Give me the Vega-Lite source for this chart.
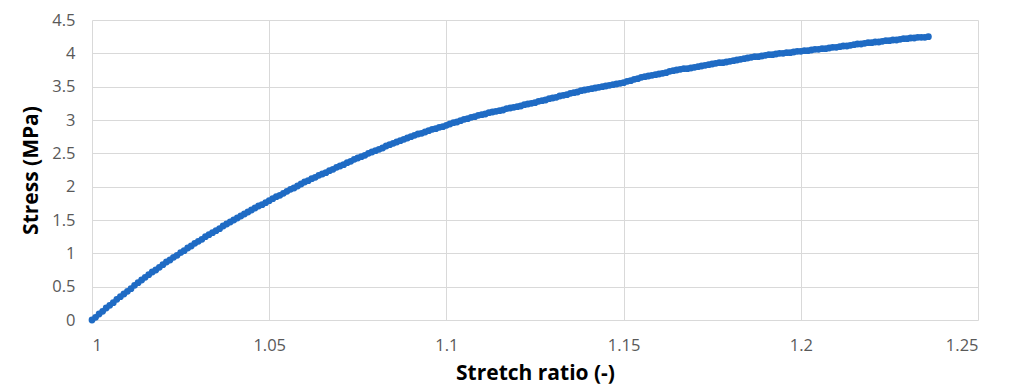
{
  "$schema": "https://vega.github.io/schema/vega-lite/v6.json",
  "width": 886,
  "height": 300,
  "autosize": {"type": "none"},
  "padding": {"left": 92, "top": 20, "right": 32, "bottom": 67},
  "background": "white",
  "config": {
    "view": {"stroke": null},
    "axis": {
      "domain": false,
      "ticks": false,
      "gridColor": "#d9d9d9",
      "gridWidth": 1,
      "labelFont": "Open Sans",
      "labelFontSize": 16.5,
      "labelColor": "#595959",
      "titleFont": "Open Sans",
      "titleFontSize": 21,
      "titleFontWeight": "bold",
      "titleColor": "#000000"
    }
  },
  "data": {
    "values": [
      {"stretch":1.000,"stress":0.00},{"stretch":1.001,"stress":0.04},{"stretch":1.002,"stress":0.09},{"stretch":1.003,"stress":0.13},{"stretch":1.004,"stress":0.18},{"stretch":1.005,"stress":0.22},
      {"stretch":1.006,"stress":0.26},{"stretch":1.007,"stress":0.31},{"stretch":1.008,"stress":0.35},{"stretch":1.009,"stress":0.39},{"stretch":1.010,"stress":0.43},
      {"stretch":1.011,"stress":0.47},{"stretch":1.012,"stress":0.52},{"stretch":1.013,"stress":0.56},{"stretch":1.014,"stress":0.60},{"stretch":1.015,"stress":0.64},
      {"stretch":1.016,"stress":0.68},{"stretch":1.017,"stress":0.72},{"stretch":1.018,"stress":0.75},{"stretch":1.019,"stress":0.79},{"stretch":1.020,"stress":0.83},
      {"stretch":1.021,"stress":0.87},{"stretch":1.022,"stress":0.90},{"stretch":1.023,"stress":0.94},{"stretch":1.024,"stress":0.97},{"stretch":1.025,"stress":1.01},
      {"stretch":1.026,"stress":1.04},{"stretch":1.027,"stress":1.08},{"stretch":1.028,"stress":1.11},{"stretch":1.029,"stress":1.15},{"stretch":1.030,"stress":1.18},
      {"stretch":1.031,"stress":1.21},{"stretch":1.032,"stress":1.25},{"stretch":1.033,"stress":1.28},{"stretch":1.034,"stress":1.31},{"stretch":1.035,"stress":1.34},
      {"stretch":1.036,"stress":1.37},{"stretch":1.037,"stress":1.41},{"stretch":1.038,"stress":1.44},{"stretch":1.039,"stress":1.47},{"stretch":1.040,"stress":1.50},
      {"stretch":1.041,"stress":1.53},{"stretch":1.042,"stress":1.56},{"stretch":1.043,"stress":1.59},{"stretch":1.044,"stress":1.62},{"stretch":1.045,"stress":1.65},
      {"stretch":1.046,"stress":1.68},{"stretch":1.047,"stress":1.71},{"stretch":1.048,"stress":1.73},{"stretch":1.049,"stress":1.76},{"stretch":1.050,"stress":1.79},
      {"stretch":1.051,"stress":1.82},{"stretch":1.052,"stress":1.85},{"stretch":1.053,"stress":1.87},{"stretch":1.054,"stress":1.90},{"stretch":1.055,"stress":1.93},
      {"stretch":1.056,"stress":1.96},{"stretch":1.057,"stress":1.98},{"stretch":1.058,"stress":2.01},{"stretch":1.059,"stress":2.04},{"stretch":1.060,"stress":2.07},
      {"stretch":1.061,"stress":2.09},{"stretch":1.062,"stress":2.12},{"stretch":1.063,"stress":2.14},{"stretch":1.064,"stress":2.17},{"stretch":1.065,"stress":2.19},
      {"stretch":1.066,"stress":2.21},{"stretch":1.067,"stress":2.24},{"stretch":1.068,"stress":2.26},{"stretch":1.069,"stress":2.29},{"stretch":1.070,"stress":2.31},
      {"stretch":1.071,"stress":2.33},{"stretch":1.072,"stress":2.36},{"stretch":1.073,"stress":2.38},{"stretch":1.074,"stress":2.41},{"stretch":1.075,"stress":2.43},
      {"stretch":1.076,"stress":2.45},{"stretch":1.077,"stress":2.47},{"stretch":1.078,"stress":2.50},{"stretch":1.079,"stress":2.52},{"stretch":1.080,"stress":2.54},
      {"stretch":1.081,"stress":2.56},{"stretch":1.082,"stress":2.58},{"stretch":1.083,"stress":2.61},{"stretch":1.084,"stress":2.63},{"stretch":1.085,"stress":2.65},
      {"stretch":1.086,"stress":2.67},{"stretch":1.087,"stress":2.69},{"stretch":1.088,"stress":2.71},{"stretch":1.089,"stress":2.73},{"stretch":1.090,"stress":2.75},
      {"stretch":1.091,"stress":2.77},{"stretch":1.092,"stress":2.79},{"stretch":1.093,"stress":2.80},{"stretch":1.094,"stress":2.82},{"stretch":1.095,"stress":2.84},
      {"stretch":1.096,"stress":2.86},{"stretch":1.097,"stress":2.87},{"stretch":1.098,"stress":2.89},{"stretch":1.099,"stress":2.90},{"stretch":1.100,"stress":2.92},
      {"stretch":1.101,"stress":2.94},{"stretch":1.102,"stress":2.96},{"stretch":1.103,"stress":2.97},{"stretch":1.104,"stress":2.99},{"stretch":1.105,"stress":3.01},
      {"stretch":1.106,"stress":3.02},{"stretch":1.107,"stress":3.04},{"stretch":1.108,"stress":3.05},{"stretch":1.109,"stress":3.07},{"stretch":1.110,"stress":3.08},
      {"stretch":1.111,"stress":3.09},{"stretch":1.112,"stress":3.11},{"stretch":1.113,"stress":3.12},{"stretch":1.114,"stress":3.13},{"stretch":1.115,"stress":3.14},
      {"stretch":1.116,"stress":3.15},{"stretch":1.117,"stress":3.17},{"stretch":1.118,"stress":3.18},{"stretch":1.119,"stress":3.19},{"stretch":1.120,"stress":3.20},
      {"stretch":1.121,"stress":3.21},{"stretch":1.122,"stress":3.23},{"stretch":1.123,"stress":3.24},{"stretch":1.124,"stress":3.25},{"stretch":1.125,"stress":3.26},
      {"stretch":1.126,"stress":3.28},{"stretch":1.127,"stress":3.29},{"stretch":1.128,"stress":3.30},{"stretch":1.129,"stress":3.32},{"stretch":1.130,"stress":3.33},
      {"stretch":1.131,"stress":3.34},{"stretch":1.132,"stress":3.36},{"stretch":1.133,"stress":3.37},{"stretch":1.134,"stress":3.38},{"stretch":1.135,"stress":3.40},
      {"stretch":1.136,"stress":3.41},{"stretch":1.137,"stress":3.42},{"stretch":1.138,"stress":3.44},{"stretch":1.139,"stress":3.45},{"stretch":1.140,"stress":3.46},
      {"stretch":1.141,"stress":3.47},{"stretch":1.142,"stress":3.48},{"stretch":1.143,"stress":3.49},{"stretch":1.144,"stress":3.50},{"stretch":1.145,"stress":3.51},
      {"stretch":1.146,"stress":3.52},{"stretch":1.147,"stress":3.53},{"stretch":1.148,"stress":3.54},{"stretch":1.149,"stress":3.55},{"stretch":1.150,"stress":3.56},
      {"stretch":1.151,"stress":3.58},{"stretch":1.152,"stress":3.59},{"stretch":1.153,"stress":3.61},{"stretch":1.154,"stress":3.62},{"stretch":1.155,"stress":3.64},
      {"stretch":1.156,"stress":3.65},{"stretch":1.157,"stress":3.66},{"stretch":1.158,"stress":3.67},{"stretch":1.159,"stress":3.68},{"stretch":1.160,"stress":3.69},
      {"stretch":1.161,"stress":3.70},{"stretch":1.162,"stress":3.71},{"stretch":1.163,"stress":3.73},{"stretch":1.164,"stress":3.74},{"stretch":1.165,"stress":3.75},
      {"stretch":1.166,"stress":3.76},{"stretch":1.167,"stress":3.77},{"stretch":1.168,"stress":3.77},{"stretch":1.169,"stress":3.78},{"stretch":1.170,"stress":3.79},
      {"stretch":1.171,"stress":3.80},{"stretch":1.172,"stress":3.81},{"stretch":1.173,"stress":3.82},{"stretch":1.174,"stress":3.83},{"stretch":1.175,"stress":3.84},
      {"stretch":1.176,"stress":3.85},{"stretch":1.177,"stress":3.86},{"stretch":1.178,"stress":3.86},{"stretch":1.179,"stress":3.87},{"stretch":1.180,"stress":3.88},
      {"stretch":1.181,"stress":3.89},{"stretch":1.182,"stress":3.90},{"stretch":1.183,"stress":3.91},{"stretch":1.184,"stress":3.92},{"stretch":1.185,"stress":3.93},
      {"stretch":1.186,"stress":3.94},{"stretch":1.187,"stress":3.95},{"stretch":1.188,"stress":3.95},{"stretch":1.189,"stress":3.96},{"stretch":1.190,"stress":3.97},
      {"stretch":1.191,"stress":3.98},{"stretch":1.192,"stress":3.98},{"stretch":1.193,"stress":3.99},{"stretch":1.194,"stress":4.00},{"stretch":1.195,"stress":4.00},
      {"stretch":1.196,"stress":4.01},{"stretch":1.197,"stress":4.01},{"stretch":1.198,"stress":4.02},{"stretch":1.199,"stress":4.03},{"stretch":1.200,"stress":4.03},
      {"stretch":1.201,"stress":4.04},{"stretch":1.202,"stress":4.04},{"stretch":1.203,"stress":4.05},{"stretch":1.204,"stress":4.06},{"stretch":1.205,"stress":4.06},
      {"stretch":1.206,"stress":4.07},{"stretch":1.207,"stress":4.07},{"stretch":1.208,"stress":4.08},{"stretch":1.209,"stress":4.09},{"stretch":1.210,"stress":4.09},
      {"stretch":1.211,"stress":4.10},{"stretch":1.212,"stress":4.11},{"stretch":1.213,"stress":4.11},{"stretch":1.214,"stress":4.12},{"stretch":1.215,"stress":4.13},
      {"stretch":1.216,"stress":4.14},{"stretch":1.217,"stress":4.14},{"stretch":1.218,"stress":4.15},{"stretch":1.219,"stress":4.16},{"stretch":1.220,"stress":4.16},
      {"stretch":1.221,"stress":4.17},{"stretch":1.222,"stress":4.17},{"stretch":1.223,"stress":4.18},{"stretch":1.224,"stress":4.19},{"stretch":1.225,"stress":4.19},
      {"stretch":1.226,"stress":4.20},{"stretch":1.227,"stress":4.20},{"stretch":1.228,"stress":4.21},{"stretch":1.229,"stress":4.22},{"stretch":1.230,"stress":4.22},
      {"stretch":1.231,"stress":4.23},{"stretch":1.232,"stress":4.23},{"stretch":1.233,"stress":4.24},{"stretch":1.234,"stress":4.24},{"stretch":1.235,"stress":4.24},
      {"stretch":1.236,"stress":4.25}
    ]
  },
  "mark": {"type": "point", "filled": true, "shape": "circle", "size": 46, "opacity": 1, "color": "#1f6bc4"},
  "encoding": {
    "x": {
      "field": "stretch",
      "type": "quantitative",
      "scale": {"domain": [1, 1.25], "nice": false, "zero": false},
      "axis": {"values": [1, 1.05, 1.1, 1.15, 1.2, 1.25], "format": "~g", "labelPadding": 17, "title": "Stretch ratio (-)", "titlePadding": 9}
    },
    "y": {
      "field": "stress",
      "type": "quantitative",
      "scale": {"domain": [0, 4.5], "nice": false},
      "axis": {"values": [0, 0.5, 1, 1.5, 2, 2.5, 3, 3.5, 4, 4.5], "format": "~g", "labelPadding": 17, "title": "Stress (MPa)", "titlePadding": 10}
    }
  }
}
